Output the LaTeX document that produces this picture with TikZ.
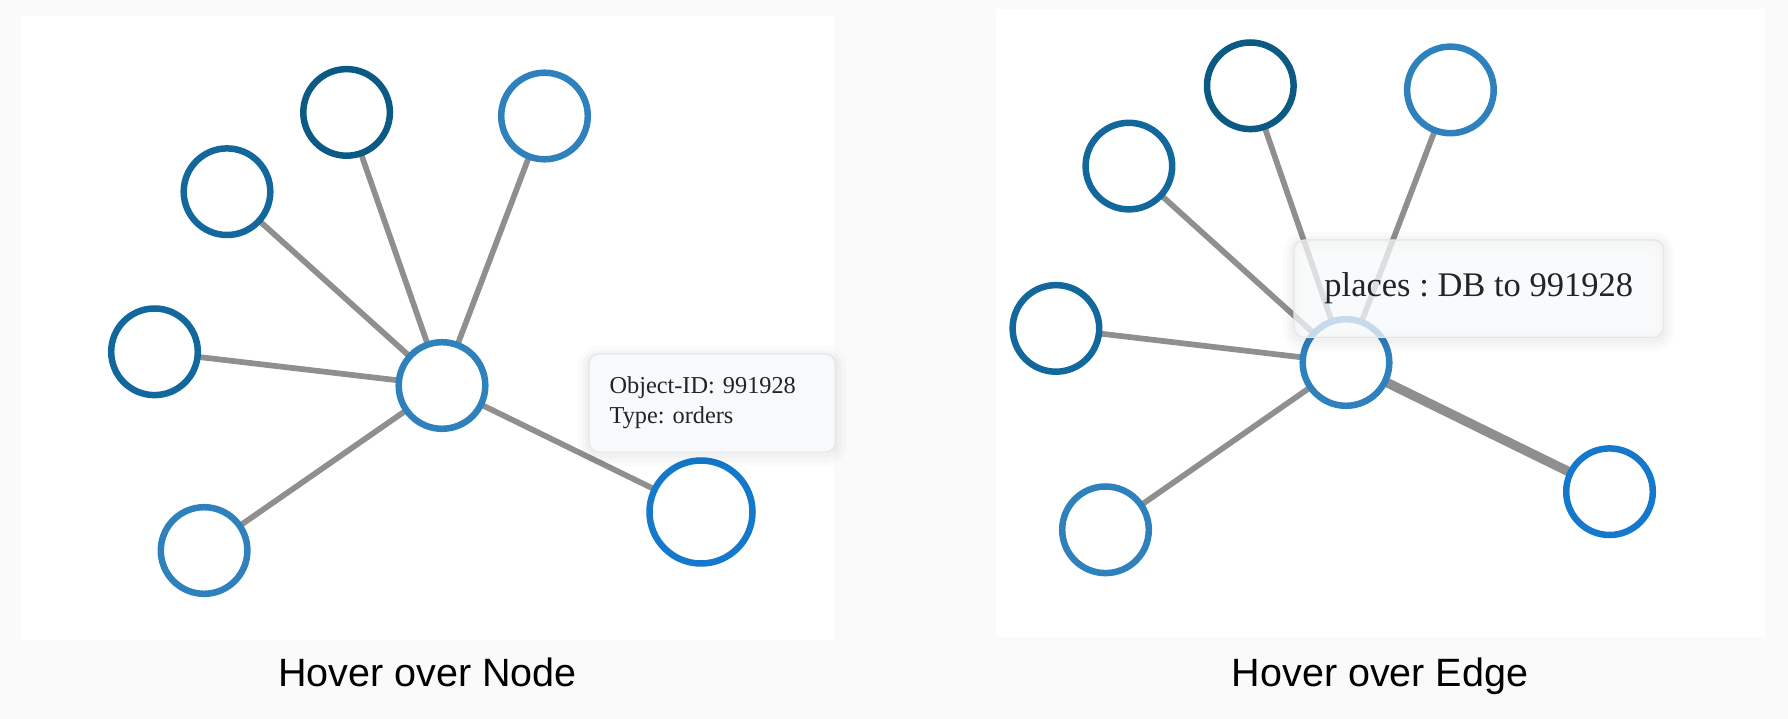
\documentclass[tikz,border=0pt]{standalone}
\usepackage{fontspec}
\setmainfont{Liberation Serif}
\newfontfamily\capfont{Liberation Sans}
\frenchspacing
\definecolor{pagebg}{HTML}{FAFAFA}
\definecolor{cdark}{HTML}{0B5A84}
\definecolor{cmid}{HTML}{12689C}
\definecolor{clight}{HTML}{2E81BC}
\definecolor{cbright}{HTML}{1479CC}
\definecolor{edgegray}{HTML}{8F8F8F}
\definecolor{tipfill}{HTML}{F8F9FA}
\definecolor{tipborder}{HTML}{E4E6E9}
\definecolor{tiptext}{HTML}{212529}
\pgfdeclarelayer{background}
\pgfdeclarelayer{edgelayer}
\pgfsetlayers{background,edgelayer,main}
\begin{document}
\frenchspacing
\begin{tikzpicture}[x=1pt,y=-1pt,
  vert/.style={circle, fill=white, line width=6.5pt, minimum size=86.6pt, inner sep=0pt},
  bigvert/.style={vert, minimum size=103pt},
  link/.style={draw=edgegray, line width=5.7pt},
  hotlink/.style={draw=edgegray, line width=9.5pt},
  tipbox/.style={rectangle, rounded corners=10pt, draw=tipborder, line width=1.2pt,
    fill=tipfill, text=tiptext, inner sep=0pt,
    preaction={draw=black, draw opacity=0.015, line width=22pt, transform canvas={yshift=-3pt}},
    preaction={draw=black, draw opacity=0.018, line width=14pt, transform canvas={yshift=-3pt}},
    preaction={draw=black, draw opacity=0.02, line width=7pt, transform canvas={yshift=-2pt}}},
  caption/.style={font=\capfont\fontsize{39.5}{42}\selectfont, text=black, anchor=base, inner sep=0pt}
]
\useasboundingbox (0,0) rectangle (1788,719);
\begin{pgfonlayer}{background}
  \fill[pagebg] (0,0) rectangle (1788,719);
  \fill[white] (21,16) rectangle (834,639.5);
  \fill[white] (995.5,9) rectangle (1765,637);
\end{pgfonlayer}

% ---------- left panel: hover over node ----------
\node[vert, draw=clight] (L0) at (442,385.5) {};
\node[vert, draw=cdark]  (L1) at (346.6,112.4) {};
\node[vert, draw=clight] (L2) at (544.5,116) {};
\node[vert, draw=cmid]   (L3) at (227,191.7) {};
\node[vert, draw=cmid]   (L4) at (154.5,351.8) {};
\node[vert, draw=clight] (L5) at (204.1,550.5) {};
\node[bigvert, draw=cbright] (L6) at (701,512) {};
\begin{pgfonlayer}{edgelayer}
  \foreach \n in {L1,L2,L3,L4,L5,L6} \draw[link] (L0.center) -- (\n.center);
\end{pgfonlayer}
\node[tipbox, anchor=north west, minimum width=225.7pt, minimum height=98.3pt,
      align=left, text width=205pt, inner xsep=20.6pt,
      font=\fontsize{24.3}{30}\selectfont] (tipL) at (588.4,353.2)
  {Object-ID: 991928\\Type: orders};

% ---------- right panel: hover over edge ----------
\node[vert, draw=clight] (R0) at (1346,362.5) {};
\node[vert, draw=cdark]  (R1) at (1250.3,85.8) {};
\node[vert, draw=clight] (R2) at (1450.4,89.9) {};
\node[vert, draw=cmid]   (R3) at (1128.9,166.1) {};
\node[vert, draw=cmid]   (R4) at (1055.9,328.4) {};
\node[vert, draw=clight] (R5) at (1105.5,529.8) {};
\node[vert, draw=cbright] (R6) at (1609.5,491.7) {};
\begin{pgfonlayer}{edgelayer}
  \foreach \n in {R1,R2,R3,R4,R5} \draw[link] (R0.center) -- (\n.center);
  \draw[hotlink] (R0.center) -- (R6.center);
\end{pgfonlayer}
\node[tipbox, fill opacity=0.75, text opacity=1, minimum width=369.3pt, minimum height=97.3pt,
      font=\fontsize{34.5}{38}\selectfont] (tipR) at (1478.7,288.7)
  {places : DB to 991928};

% ---------- captions ----------
\node[caption] (capL) at (427.5,686.7) {Hover over Node};
\node[caption] (capR) at (1380,686.7) {Hover over Edge};
\end{tikzpicture}
\end{document}
